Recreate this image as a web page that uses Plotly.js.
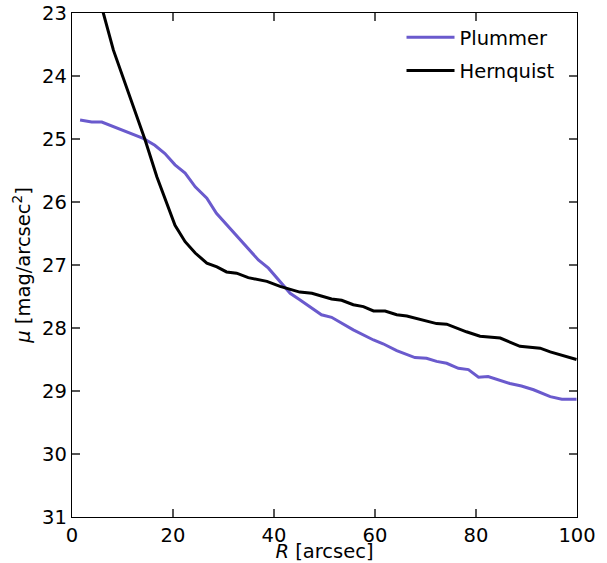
<!DOCTYPE html>
<html>
<head>
<meta charset="utf-8">
<script src="https://cdn.plot.ly/plotly-3.0.1.min.js"></script>
<style>html,body{margin:0;padding:0;background:#fff;}#chart{width:607px;height:563px;}</style>
</head>
<body>
<div id="chart"></div>
<script>
const plummerR  = [1.6, 3.9, 5.9, 7.5, 10.2, 14.1, 16.4, 18.4, 20.4, 22.4, 24.4, 26.7, 28.6, 31.3, 33.9, 36.9, 38.9, 41.2, 43.2, 45.1, 49.4, 51.4, 55.7, 59.7, 61.6, 64.3, 67.9, 70.2, 72.2, 74.2, 76.5, 78.5, 80.5, 82.4, 86.7, 89.0, 91.4, 94.7, 97.0, 99.9];
const plummerMu = [24.70, 24.73, 24.73, 24.78, 24.86, 24.99, 25.10, 25.23, 25.41, 25.54, 25.76, 25.94, 26.18, 26.42, 26.66, 26.92, 27.05, 27.26, 27.45, 27.55, 27.79, 27.83, 28.03, 28.19, 28.25, 28.36, 28.47, 28.48, 28.53, 28.56, 28.64, 28.66, 28.78, 28.77, 28.88, 28.92, 28.98, 29.09, 29.13, 29.13];
const hernR  = [1.6, 4.0, 6.2, 8.2, 10.8, 12.8, 14.5, 16.8, 18.7, 20.4, 22.4, 24.4, 26.7, 28.7, 30.6, 32.6, 34.9, 38.6, 41.2, 45.1, 47.5, 51.4, 53.4, 55.7, 57.7, 59.7, 62.0, 64.3, 66.3, 72.2, 74.2, 78.1, 80.8, 84.8, 88.7, 92.7, 94.7, 99.9];
const hernMu = [21.75, 22.40, 23.00, 23.59, 24.17, 24.62, 25.02, 25.60, 26.02, 26.37, 26.63, 26.81, 26.97, 27.03, 27.11, 27.13, 27.20, 27.26, 27.34, 27.43, 27.45, 27.54, 27.56, 27.63, 27.66, 27.73, 27.73, 27.79, 27.81, 27.93, 27.94, 28.06, 28.13, 28.16, 28.29, 28.32, 28.38, 28.50];
const xTicks = [0, 20, 40, 60, 80, 100];
const yTicks = [23, 24, 25, 26, 27, 28, 29, 30, 31];

const font = {family: 'DejaVu Sans', size: 19.5, color: '#000'};
const data = [
  {x: plummerR, y: plummerMu, name: 'Plummer', legendgroup: 'a', mode: 'lines', line: {color: '#6a5acd', width: 3}},
  {x: hernR, y: hernMu, name: 'Hernquist', legendgroup: 'b', mode: 'lines', line: {color: '#000000', width: 3}}
];
const axisCommon = {
  showgrid: false, zeroline: false, showline: true, linecolor: '#000', linewidth: 1.2,
  mirror: 'ticks', ticks: 'inside', ticklen: 8, tickwidth: 1.2, tickcolor: '#555',
  tickfont: font
};
const layout = {
  width: 607, height: 563,
  margin: {l: 72, r: 30, t: 13, b: 46},
  paper_bgcolor: '#fff', plot_bgcolor: '#fff',
  font: font,
  showlegend: true,
  legend: {x: 0.6525, y: 0.99, xanchor: 'left', yanchor: 'top', bgcolor: 'rgba(0,0,0,0)', font: font, tracegroupgap: 5, itemwidth: 48},
  xaxis: Object.assign({}, axisCommon, {range: [0, 100], tickvals: xTicks, ticktext: xTicks.map(String),
    title: {text: '<i>R</i> [arcsec]', font: font, standoff: 4}}),
  yaxis: Object.assign({}, axisCommon, {range: [31, 23], tickvals: yTicks, ticktext: yTicks.map(String),
    title: {text: '<i>μ</i> [mag/arcsec<sup>2</sup>]', font: font, standoff: 6}})
};
Plotly.newPlot('chart', data, layout, {displayModeBar: false, staticPlot: true});
</script>
</body>
</html>
